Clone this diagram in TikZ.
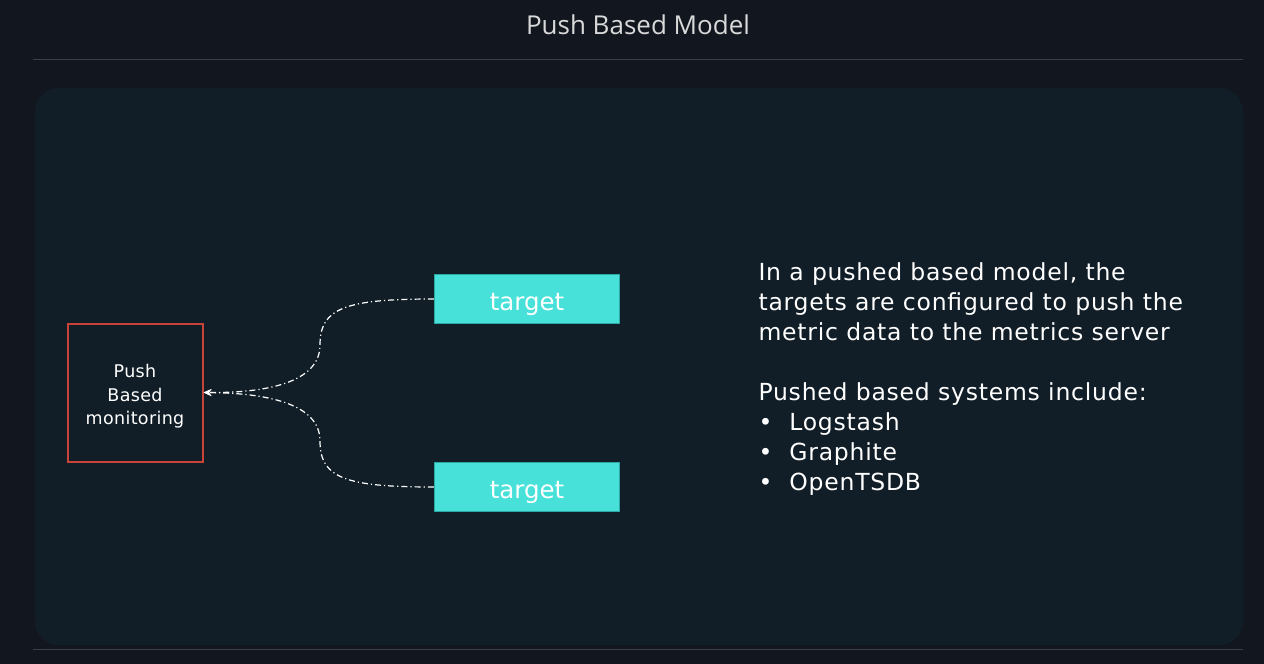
\documentclass[tikz,border=0pt]{standalone}
\usepackage{fontspec}
\setmainfont{DejaVu Sans}
\newfontfamily\titlefont{Open Sans}
\usetikzlibrary{arrows.meta,positioning}
\definecolor{bgdark}{HTML}{12171F}
\definecolor{paneldark}{HTML}{111E27}
\definecolor{rulegrey}{HTML}{3A3F4A}
\definecolor{monred}{HTML}{C8433A}
\definecolor{targetcyan}{HTML}{47E1D9}
\definecolor{targetedge}{HTML}{2BA8A2}

\begin{document}
\begin{tikzpicture}[
		x=1pt,y=-1pt,
		target/.style={draw=targetedge,line width=1.5pt,fill=targetcyan,minimum width=185pt,minimum height=49pt,text height=22pt,text depth=0pt,text=white,font=\fontsize{24.5}{27}\selectfont},
		monitor/.style={draw=monred,line width=2pt,minimum width=135pt,minimum height=138pt,text=white,align=center,font=\fontsize{17.5}{23.5}\selectfont\addfontfeatures{LetterSpace=2}},
		push/.style={white,line width=1.2pt,dash pattern=on 6pt off 3pt on 1.2pt off 3pt,-{Stealth[length=8pt,width=7pt]}}
		]
		
		% fond et cadre
		\fill[bgdark] (0,0) rectangle (1264,664);
		\useasboundingbox (0,0) rectangle (1264,664);
		\node[text=white!85!black,font=\titlefont\fontsize{26}{30}\selectfont] (title) at (638,25) {Push Based Model};
		\draw[rulegrey,line width=1pt] (33,59) -- (1243,59);
		\fill[paneldark,rounded corners=24pt] (35,88) rectangle (1243,645);
		\draw[rulegrey,line width=1pt] (33,649) -- (1243,649);
		
		% serveur et cibles
		\node[monitor] (mon) at (135,392.5) {\rule{0pt}{21.5pt}Push\\Based\\monitoring};
		\node[target] (t1) at (527,299) {target};
		\node[target] (t2) at (527,487) {target};
		
		% connexions
		\draw[push] (t1.west) .. controls (345,299) and (320,308) .. (320,345) .. controls (320,383) and (265,393) .. (mon.east);
		\draw[push] (t2.west) .. controls (345,487) and (320,478) .. (320,441) .. controls (320,403) and (265,393) .. (mon.east);
		
		% texte
		\node[anchor=north west,text=white,align=left,font=\fontsize{23.5}{30}\selectfont\addfontfeatures{LetterSpace=3.3}] (desc) at (755,259) {In a pushed based model, the\\targets are configured to push the\\metric data to the metrics server\\[30pt]Pushed based systems include:\\\textbullet\hspace{17pt}Logstash\\\textbullet\hspace{17pt}Graphite\\\textbullet\hspace{17pt}OpenTSDB};
		
	\end{tikzpicture}
\end{document}
